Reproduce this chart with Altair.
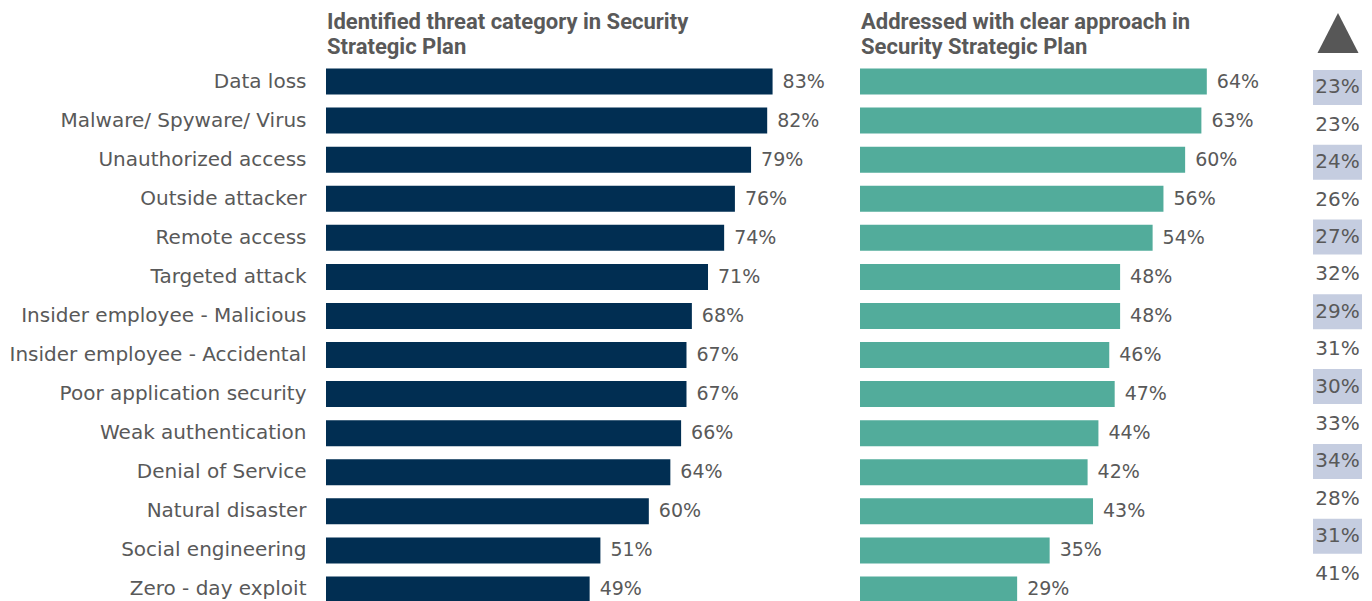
import altair as alt
import pandas as pd

categories = [
    "Data loss", "Malware/ Spyware/ Virus", "Unauthorized access", "Outside attacker",
    "Remote access", "Targeted attack", "Insider employee - Malicious",
    "Insider employee - Accidental", "Poor application security", "Weak authentication",
    "Denial of Service", "Natural disaster", "Social engineering", "Zero - day exploit",
]
identified = [83, 82, 79, 76, 74, 71, 68, 67, 67, 66, 64, 60, 51, 49]
addressed = [64, 63, 60, 56, 54, 48, 48, 46, 47, 44, 42, 43, 35, 29]
delta = [23, 23, 24, 26, 27, 32, 29, 31, 30, 33, 34, 28, 31, 41]

header_left = ["Identified threat category in Security", "Strategic Plan"]
header_right = ["Addressed with clear approach in", "Security Strategic Plan"]

df = pd.DataFrame({
    "category": categories,
    "identified": identified,
    "addressed": addressed,
    "delta": delta,
    "idx": list(range(len(categories))),
})

GRAY = "#595959"
NAVY = "#012e52"
TEAL = "#52ac9b"
BOX = "#c5cde0"
LABEL_FONT = "DejaVu Sans"
HEAD_FONT = "Roboto"

H = 547
base = alt.Chart(df)


def header(lines):
    layers = []
    for i, line in enumerate(lines):
        layers.append(
            base.transform_filter("datum.idx == 0").mark_text(
                align="left", baseline="alphabetic", font=HEAD_FONT, fontSize=22,
                fontWeight="bold", color=GRAY
            ).encode(x=alt.value(1), y=alt.value(-33.5 + 25 * i), text=alt.value(line))
        )
    return layers


y_left = alt.Y("category:N", sort=categories,
               scale=alt.Scale(paddingInner=0, paddingOuter=0),
               axis=alt.Axis(title=None, ticks=False, domain=False, grid=False,
                             labelFontSize=20, labelFont=LABEL_FONT, labelColor=GRAY,
                             labelPadding=20, minExtent=318, maxExtent=318, labelLimit=400))
y_plain = alt.Y("category:N", sort=categories,
                scale=alt.Scale(paddingInner=0, paddingOuter=0), axis=None)

xl = alt.X("identified:Q", scale=alt.Scale(domain=[0, 92]), axis=None)
left_bars = base.mark_bar(size=26, color=NAVY).encode(x=xl, y=y_left)
left_text = base.transform_calculate(lab="datum.identified + '%'").mark_text(
    align="left", baseline="middle", dx=10, fontSize=19, font=LABEL_FONT, color=GRAY
).encode(x=xl, y=y_left, text="lab:N")
left = alt.layer(left_bars, left_text, *header(header_left)).properties(width=495, height=H)

xr = alt.X("addressed:Q", scale=alt.Scale(domain=[0, 76.4]), axis=None)
right_bars = base.mark_bar(size=26, color=TEAL).encode(x=xr, y=y_plain)
right_text = base.transform_calculate(lab="datum.addressed + '%'").mark_text(
    align="left", baseline="middle", dx=10, fontSize=19, font=LABEL_FONT, color=GRAY
).encode(x=xr, y=y_plain, text="lab:N")
right = alt.layer(right_bars, right_text, *header(header_right)).properties(width=414, height=H)

W3 = 49
y_delta = alt.Y("category:N", sort=categories,
                scale=alt.Scale(paddingInner=0, paddingOuter=0.18), axis=None)
boxes = base.transform_filter("datum.idx % 2 == 0").mark_bar(size=35, color=BOX).encode(
    x=alt.value(0), x2=alt.value(W3), y=y_delta)
delta_text = base.transform_calculate(lab="datum.delta + '%'").mark_text(
    align="center", baseline="middle", fontSize=20, font=LABEL_FONT, color=GRAY
).encode(x=alt.value(W3 / 2), y=y_delta, text="lab:N")
tri = base.transform_filter("datum.idx == 0").mark_point(
    shape="M0,-0.98L1,0.98L-1,0.98Z", filled=True, opacity=1, size=1681, color="#575757"
).encode(x=alt.value(W3 / 2 + 0.5), y=alt.value(-29))
delta_panel = alt.layer(boxes, delta_text, tri).properties(width=W3, height=537)

chart = alt.hconcat(left, right, delta_panel, spacing=39, bounds="flush").resolve_scale(
    y="independent"
).properties(
    padding={"left": 0, "top": 2, "right": 0, "bottom": 0}
).configure_view(stroke=None)

chart.save("out.html", embed_options={"renderer": "svg", "actions": False})
